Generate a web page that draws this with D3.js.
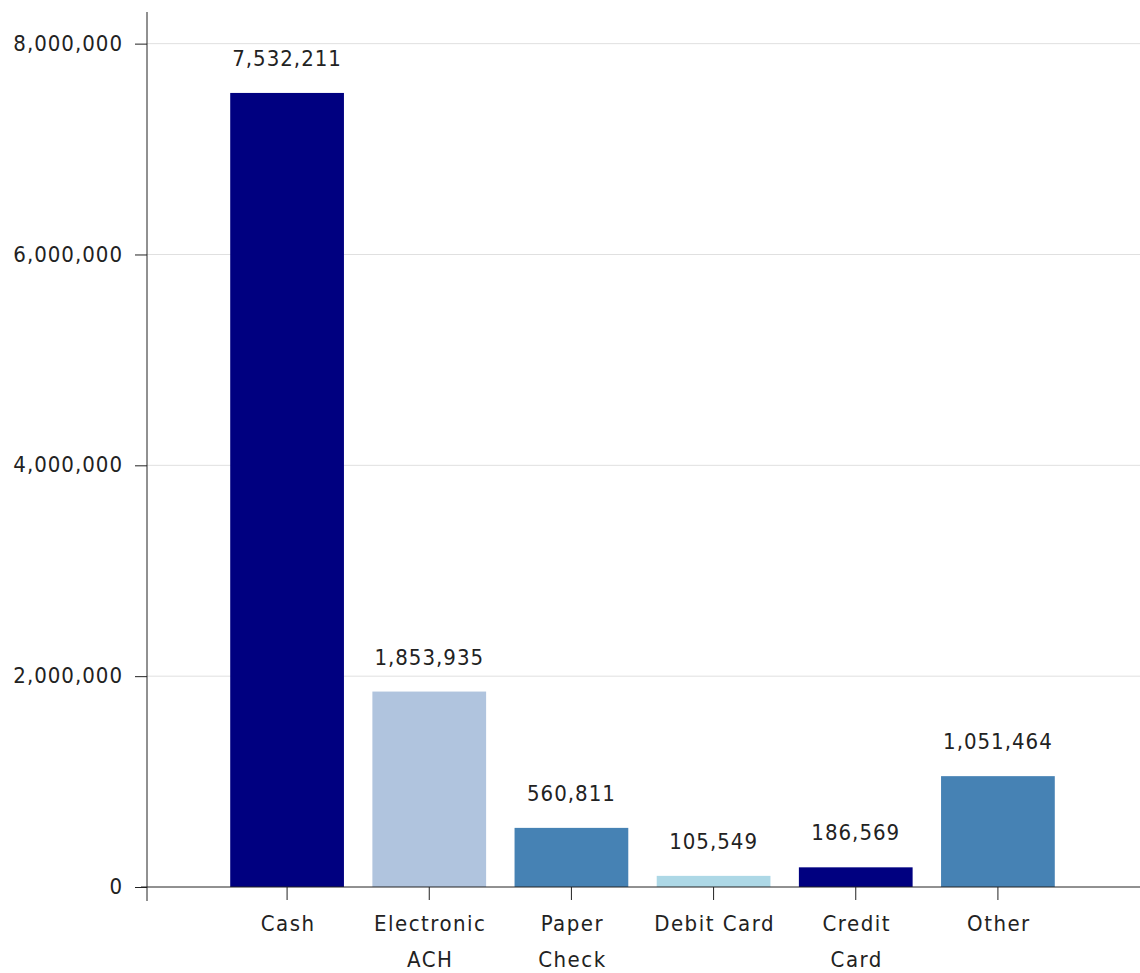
<!DOCTYPE html>
<html>
<head>
<meta charset="utf-8">
<script src="https://cdn.jsdelivr.net/npm/d3@7"></script>
<style>
  body { margin: 0; background: #fff; }
  svg text { font-family: "DejaVu Sans Condensed", "Liberation Sans Narrow", "DejaVu Sans", sans-serif; font-stretch: condensed; font-size: 22px; fill: #222; letter-spacing: 1px; }
  svg text.xl { letter-spacing: 1.5px; }
</style>
</head>
<body>
<svg id="chart" width="1140" height="973"></svg>
<script>
const categories = ["Cash", "Electronic ACH", "Paper Check", "Debit Card", "Credit Card", "Other"];
const categoryLines = [["Cash"], ["Electronic", "ACH"], ["Paper", "Check"], ["Debit Card"], ["Credit", "Card"], ["Other"]];
const values = [7532211, 1853935, 560811, 105549, 186569, 1051464];
const colors = ["#000080", "#b0c4de", "#4682b4", "#add8e6", "#000080", "#4682b4"];
const yTicks = [0, 2000000, 4000000, 6000000, 8000000];

const svg = d3.select("#chart");
const originX = 147, originY = 887, topY = 12, rightX = 1140;

const y = d3.scaleLinear().domain([0, 8300000]).range([originY, topY]);
const x = d3.scaleBand().domain(categories).range([216, 1069]).paddingInner(0.2).paddingOuter(0.1);
const fmt = d3.format(",");

// gridlines
svg.append("g").selectAll("line").data(yTicks.filter(d => d > 0)).join("line")
  .attr("x1", originX).attr("x2", rightX)
  .attr("y1", d => y(d)).attr("y2", d => y(d))
  .attr("stroke", "#e0e0e0").attr("stroke-width", 1);

// bars
svg.append("g").selectAll("rect").data(values).join("rect")
  .attr("x", (d, i) => x(categories[i]))
  .attr("width", x.bandwidth())
  .attr("y", d => y(d))
  .attr("height", d => originY - y(d))
  .attr("fill", (d, i) => colors[i]);

// value labels
svg.append("g").selectAll("text").data(values).join("text")
  .attr("x", (d, i) => x(categories[i]) + x.bandwidth() / 2)
  .attr("y", d => y(d) - 27)
  .attr("text-anchor", "middle")
  .text(d => fmt(d));

// y axis
const yAxis = d3.axisLeft(y).tickValues(yTicks).tickFormat(fmt).tickSize(12).tickPadding(12);
const gy = svg.append("g").attr("transform", `translate(${originX},0)`).call(yAxis);
gy.select(".domain").attr("d", `M0,${topY}V${originY + 14}`).attr("stroke", "#222");
gy.selectAll(".tick line").attr("stroke", "#222");
gy.selectAll(".tick text").attr("font-family", null).attr("font-size", null).attr("fill", null).attr("dy", "0.3em");

// x axis
const xAxis = d3.axisBottom(x).tickSize(13).tickFormat(() => "");
const gx = svg.append("g").attr("transform", `translate(0,${originY})`).call(xAxis);
gx.select(".domain").attr("d", `M${originX - 6},0H${rightX}`).attr("stroke", "#222");
gx.selectAll(".tick line").attr("stroke", "#222");

// x labels (multi-line)
const lbl = svg.append("g").selectAll("text").data(categories).join("text")
  .attr("class", "xl")
  .attr("x", d => x(d) + x.bandwidth() / 2 + 1)
  .attr("y", 931)
  .attr("text-anchor", "middle");
lbl.each(function(d, i) {
  d3.select(this).selectAll("tspan").data(categoryLines[i]).join("tspan")
    .attr("x", x(d) + x.bandwidth() / 2 + 1)
    .attr("dy", (t, j) => j === 0 ? 0 : 36)
    .text(t => t);
});
</script>
</body>
</html>
